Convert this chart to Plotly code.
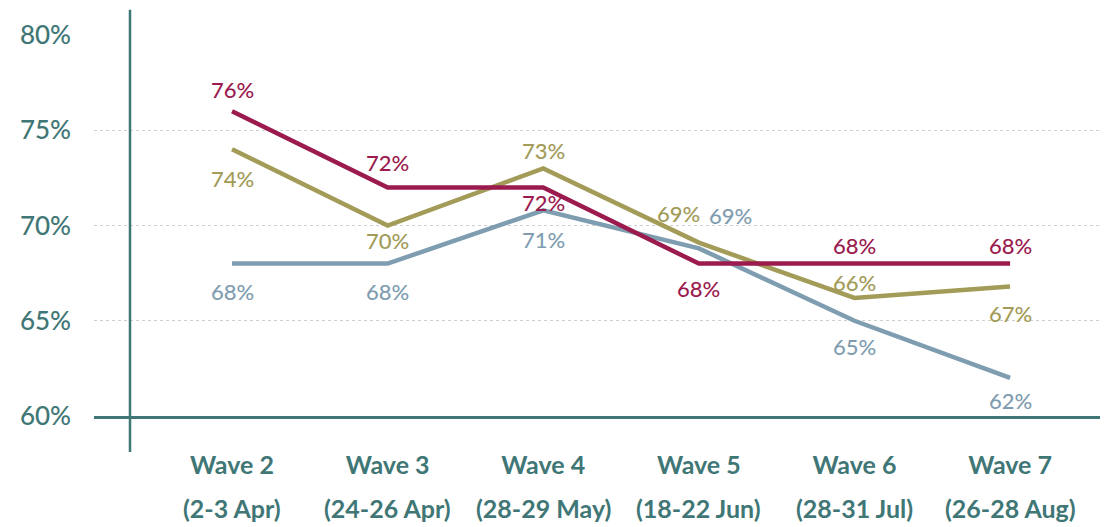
import plotly.graph_objects as go

waves = ["Wave 2", "Wave 3", "Wave 4", "Wave 5", "Wave 6", "Wave 7"]
dates = ["(2-3 Apr)", "(24-26 Apr)", "(28-29 May)", "(18-22 Jun)", "(28-31 Jul)", "(26-28 Aug)"]

red_vals = [76, 72, 72, 68, 68, 68]
olive_vals = [74, 70, 73, 69.1, 66.2, 66.8]
blue_vals = [68, 68, 70.8, 68.8, 65, 62]

y_ticks = [60, 65, 70, 75, 80]

RED = "#9B1B4F"
OLIVE = "#A39B58"
BLUE = "#7F9DB0"
TEAL = "#3F7676"
FONT = "Lato"

# label offsets (px): (xshift, yshift)
red_off = [(0, 22), (0, 25), (0, -15), (0, -25), (0, 18), (0, 18)]
olive_off = [(0, -29), (0, -15), (0, 18), (-20, 29), (0, 15), (0, -27)]
blue_off = [(0, -28), (0, -28), (0, -29), (32, 33), (0, -26), (0, -23)]

idx = list(range(len(waves)))
fig = go.Figure()
annotations = []
for vals, col, offs in [(blue_vals, BLUE, blue_off), (olive_vals, OLIVE, olive_off), (red_vals, RED, red_off)]:
    fig.add_trace(go.Scatter(x=idx, y=vals, mode="lines",
                             line=dict(color=col, width=4.5), hoverinfo="skip", showlegend=False))
    for i, v in enumerate(vals):
        annotations.append(dict(x=i, y=v, xref="x", yref="y", text=f"{round(v)}%",
                                showarrow=False, xshift=offs[i][0], yshift=offs[i][1],
                                font=dict(family=FONT, size=22, color=col, weight=500)))

for i, d in enumerate(dates):
    annotations.append(dict(x=i, y=-0.2415, xref="x", yref="paper", yanchor="middle",
                            text=d, showarrow=False,
                            font=dict(family=FONT, size=25, color=TEAL, weight=700)))

fig.update_layout(
    width=1108, height=527,
    margin=dict(l=86, r=11, t=27, b=119),
    paper_bgcolor="white", plot_bgcolor="white",
    annotations=annotations,
    shapes=[dict(type="line", xref="paper", yref="paper", x0=0.0356, x1=0.0356,
                 y0=-0.0945, y1=1.066, line=dict(color=TEAL, width=2.5))],
    xaxis=dict(range=[-0.887, 5.61], tickvals=idx, ticktext=waves,
               tickfont=dict(family=FONT, size=25, color=TEAL, weight=700),
               showgrid=False, zeroline=False, showline=True, linecolor=TEAL, linewidth=2.5,
               ticks="", ticklabelstandoff=25),
    yaxis=dict(range=[60, 80], tickvals=y_ticks, ticktext=[f"{t}%" for t in y_ticks],
               tickfont=dict(family=FONT, size=26, color=TEAL, weight=500),
               showgrid=True, gridcolor="#CFCFCF", griddash="dot", gridwidth=1,
               zeroline=False, showline=False, ticks="", ticklabelstandoff=22),
)
fig.write_html("out.html")
